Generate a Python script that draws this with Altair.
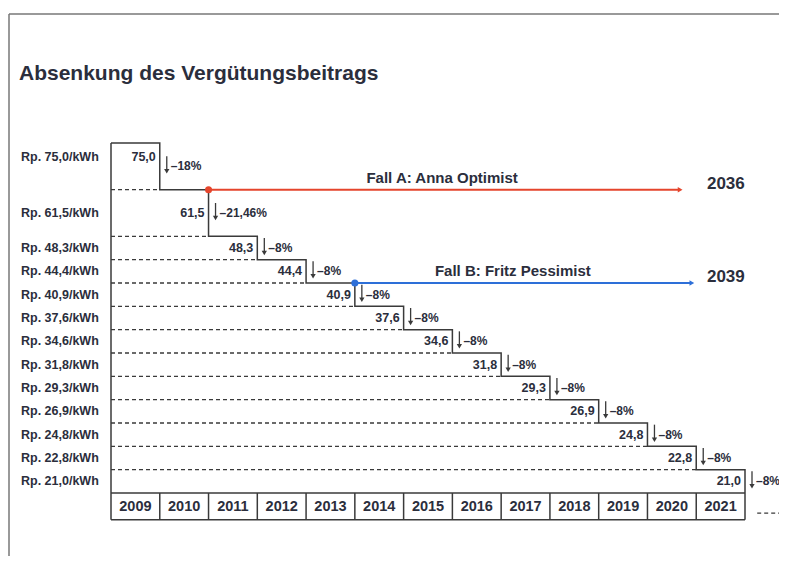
import altair as alt
import pandas as pd

# ---------------- data ----------------
years = [2009, 2010, 2011, 2012, 2013, 2014, 2015, 2016, 2017, 2018, 2019, 2020, 2021]
rates = [75.0, 61.5, 48.3, 44.4, 40.9, 37.6, 34.6, 31.8, 29.3, 26.9, 24.8, 22.8, 21.0]
rate_text = ["75,0", "61,5", "48,3", "44,4", "40,9", "37,6", "34,6", "31,8",
             "29,3", "26,9", "24,8", "22,8", "21,0"]
drops = [18, 21.46, 8, 8, 8, 8, 8, 8, 8, 8, 8, 8, 8]
drop_text = ["–18%", "–21,46%", "–8%", "–8%", "–8%", "–8%", "–8%", "–8%",
             "–8%", "–8%", "–8%", "–8%", "–8%"]

title_text = "Absenkung des Vergütungsbeitrags"
case_names = ["Fall A: Anna Optimist", "Fall B: Fritz Pessimist"]
case_end_years = ["2036", "2039"]
case_start_rate = [61.5, 40.9]

# ---------------- layout helpers ----------------
FONT = "Liberation Sans, Arimo, Arial, Roboto, sans-serif"
TXT = "#2b2e3c"
LINE = "#3a3a3a"
RED = "#e5452c"
BLUE = "#2d6fd8"

n = len(years)
# big drops get a double-height row
gaps = [2 if d > 10 else 1 for d in drops]
tops = [0]
for g in gaps:
    tops.append(tops[-1] + g)
bottom = tops[-1]
box_bottom = bottom + 1.15

lab_y = [t + (0.6 if i == 0 else g / 2) for i, (t, g) in enumerate(zip(tops, gaps))]
pct_y = [t + g / 2 for t, g in zip(tops, gaps)]

X = alt.Scale(domain=[0, n], range=[103, 737], nice=False, zero=False)
Y = alt.Scale(domain=[0, bottom], range=[135, 485], nice=False, zero=False)


def xq(f):
    return alt.X(f, type="quantitative", scale=X, axis=None)


def yq(f):
    return alt.Y(f, type="quantitative", scale=Y, axis=None)


rows = pd.DataFrame({
    "year": years,
    "rate": rates,
    "rate_text": rate_text,
    "left_text": ["Rp. " + r + "/kWh" for r in rate_text],
    "drop_text": drop_text,
    "idx": list(range(n)),
    "right": [i + 1 for i in range(n)],
    "mid": [i + 0.5 for i in range(n)],
    "top": tops[:-1],
    "lab": lab_y,
    "pct": pct_y,
})

# step path
pts = []
for i in range(n):
    pts.append({"x": i, "y": tops[i]})
    pts.append({"x": i + 1, "y": tops[i]})
pts.append({"x": n, "y": bottom})
step_df = pd.DataFrame(pts)
step_df["o"] = range(len(step_df))

# solid frame rules (left border + year boxes)
solid = [{"x": 0, "x2": 0, "y": 0, "y2": box_bottom},
         {"x": 0, "x2": n, "y": bottom, "y2": bottom},
         {"x": 0, "x2": n, "y": box_bottom, "y2": box_bottom}]
for b in range(1, n + 1):
    solid.append({"x": b, "x2": b, "y": bottom, "y2": box_bottom})
solid_df = pd.DataFrame(solid)

dashed = [{"x": 0, "x2": i, "y": tops[i], "y2": tops[i]} for i in range(1, n)]
dashed.append({"x": n + 0.25, "x2": n + 0.9, "y": bottom + 0.86, "y2": bottom + 0.86})
dashed_df = pd.DataFrame(dashed)

# case lines: start at the end of the year whose rate is locked in
a_row = rates.index(case_start_rate[0])
b_row = rates.index(case_start_rate[1])
cases = pd.DataFrame({
    "name": case_names,
    "end": case_end_years,
    "x": [a_row + 1, b_row + 1],
    "x2": [11.67, 11.91],
    "y": [tops[a_row], tops[b_row]],
    "tx": [6.79, 8.24],
    "ex": [12.22, 12.22],
    "color": [RED, BLUE],
})

base = alt.Chart(rows)

step = alt.Chart(step_df).mark_line(color=LINE, strokeWidth=1.5).encode(
    x=xq("x"), y=yq("y"), order="o:Q")

solid_rules = alt.Chart(solid_df).mark_rule(color=LINE, strokeWidth=1.5).encode(
    x=xq("x"), x2="x2", y=yq("y"), y2="y2")

dashed_rules = alt.Chart(dashed_df).mark_rule(
    color=LINE, strokeWidth=1.3, strokeDash=[4, 3]).encode(
    x=xq("x"), x2="x2", y=yq("y"), y2="y2")

left_labels = base.mark_text(align="left", baseline="middle", font=FONT,
                             fontWeight="bold", fontSize=12.5, color=TXT).encode(
    x=alt.value(13), y=yq("lab"), text="left_text:N")

value_labels = base.mark_text(align="right", baseline="middle", dx=-4, font=FONT,
                              fontWeight="bold", fontSize=12.5, color=TXT).encode(
    x=xq("right"), y=yq("lab"), text="rate_text:N")

arrow_stem = base.mark_rule(color=LINE, strokeWidth=1.3, xOffset=7,
                            yOffset=-10, y2Offset=5).encode(
    x=xq("right"), y=yq("pct"), y2="pct:Q")

arrow_head = base.mark_point(shape="triangle-down", filled=True, color=LINE,
                             size=28, opacity=1, xOffset=7, yOffset=5).encode(
    x=xq("right"), y=yq("pct"))

pct_labels = base.mark_text(align="left", baseline="middle", dx=11, font=FONT,
                            fontWeight="bold", fontSize=12, color=TXT).encode(
    x=xq("right"), y=yq("pct"), text="drop_text:N")

year_labels = base.mark_text(align="center", baseline="middle", font=FONT,
                             fontWeight="bold", fontSize=14.5, color=TXT).encode(
    x=xq("mid"), y=alt.value(499), text="year:N")

cbase = alt.Chart(cases)
case_lines = cbase.mark_rule(strokeWidth=2).encode(
    x=xq("x"), x2="x2", y=yq("y"),
    color=alt.Color("color:N", scale=None))
case_heads = cbase.mark_point(shape="triangle-right", filled=True, size=30,
                              opacity=1).encode(
    x=xq("x2"), y=yq("y"), color=alt.Color("color:N", scale=None))
case_dots = cbase.mark_circle(size=50, opacity=1).encode(
    x=xq("x"), y=yq("y"), color=alt.Color("color:N", scale=None))
case_names_t = cbase.mark_text(align="center", baseline="alphabetic", dy=-7,
                               font=FONT, fontWeight="bold", fontSize=15,
                               color=TXT).encode(
    x=xq("tx"), y=yq("y"), text="name:N")
case_end_t = cbase.mark_text(align="left", baseline="middle", dy=-6,
                             font=FONT, fontWeight="bold", fontSize=17,
                             color=TXT).encode(
    x=xq("ex"), y=yq("y"), text="end:N")

title = alt.Chart(pd.DataFrame({"t": [title_text]})).mark_text(
    align="left", baseline="alphabetic", font=FONT, fontWeight="bold",
    fontSize=21, color=TXT).encode(x=alt.value(11), y=alt.value(72), text="t:N")

frame_v = alt.Chart(pd.DataFrame({"a": [0]})).mark_rule(
    color="#777777", strokeWidth=1.5).encode(
    x=alt.value(1), y=alt.value(6), y2=alt.value(548))
frame_h = alt.Chart(pd.DataFrame({"a": [0]})).mark_rule(
    color="#777777", strokeWidth=1.5).encode(
    x=alt.value(1), x2=alt.value(771), y=alt.value(6))

chart = alt.layer(
    frame_v, frame_h, title,
    dashed_rules, solid_rules, step,
    left_labels, value_labels, arrow_stem, arrow_head, pct_labels, year_labels,
    case_lines, case_heads, case_dots, case_names_t, case_end_t,
).properties(
    width=771, height=548,
    autosize=alt.AutoSizeParams(type="none"),
    padding=0,
    background="white",
).configure_view(stroke=None)

chart.save("out.html", embed_options={"renderer": "svg", "actions": False})
